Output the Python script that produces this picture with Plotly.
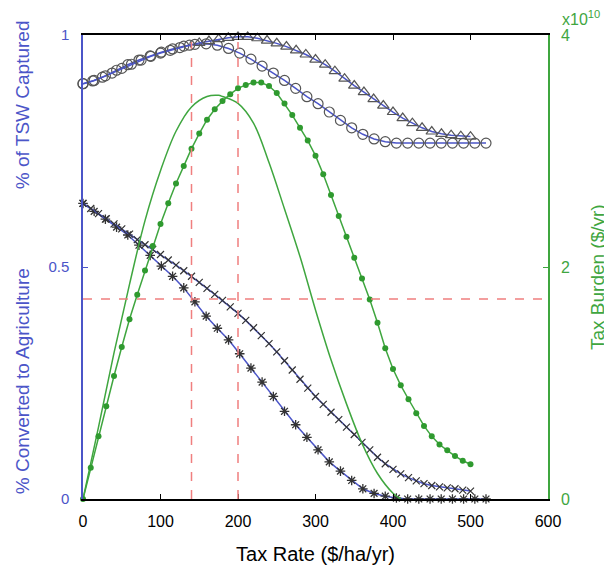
import plotly.graph_objects as go

# ---------------- data ----------------
# grid used by the circle / asterisk series (0..520)
X_A = [0, 14.4, 28.9, 43.3, 57.8, 72.2, 86.7, 101.1, 115.6, 130, 144.4, 158.9,
       173.3, 187.8, 202.2, 216.7, 231.1, 245.6, 260, 274.4, 288.9, 303.3, 317.8,
       332.2, 346.7, 361.1, 375.6, 390, 404.4, 418.9, 433.3, 447.8, 462.2, 476.7,
       491.1, 505.6, 520]
TSW_A = [0.895, 0.902, 0.912, 0.924, 0.936, 0.946, 0.955, 0.963, 0.970, 0.976,
         0.980, 0.981, 0.978, 0.971, 0.961, 0.948, 0.933, 0.918, 0.902, 0.885,
         0.867, 0.852, 0.834, 0.816, 0.800, 0.786, 0.776, 0.770, 0.767, 0.767,
         0.767, 0.767, 0.767, 0.767, 0.767, 0.767, 0.767]
CONV_A = [0.637, 0.620, 0.603, 0.586, 0.569, 0.547, 0.525, 0.502, 0.480, 0.455,
          0.425, 0.394, 0.368, 0.343, 0.313, 0.282, 0.252, 0.221, 0.189, 0.160,
          0.133, 0.106, 0.080, 0.060, 0.040, 0.022, 0.012, 0.006, 0.002, 0.0,
          0.0, 0.0, 0.0, 0.0, 0.0, 0.0, 0.0]

# grid used by the triangle series (0..500)
X_B = [0, 12.5, 25, 37.5, 50, 62.5, 75, 87.5, 100, 112.5, 125, 137.5, 150, 162.5,
       175, 187.5, 200, 212.5, 225, 237.5, 250, 262.5, 275, 287.5, 300, 312.5,
       325, 337.5, 350, 362.5, 375, 387.5, 400, 412.5, 425, 437.5, 450, 462.5,
       475, 487.5, 500]
TSW_B = [0.895, 0.901, 0.909, 0.918, 0.928, 0.937, 0.946, 0.954, 0.961, 0.967,
         0.973, 0.978, 0.983, 0.987, 0.991, 0.994, 0.996, 0.996, 0.993, 0.988,
         0.982, 0.975, 0.967, 0.958, 0.947, 0.936, 0.922, 0.906, 0.891, 0.877,
         0.862, 0.848, 0.834, 0.821, 0.810, 0.800, 0.792, 0.787, 0.784, 0.782,
         0.781]

# grid used by the cross series and green dots (0..500, step 10)
X_C = [0, 10, 20, 30, 40, 50, 60, 70, 80, 90, 100, 110, 120, 130, 140, 150, 160,
       170, 180, 190, 200, 210, 220, 230, 240, 250, 260, 270, 280, 290, 300, 310,
       320, 330, 340, 350, 360, 370, 380, 390, 400, 410, 420, 430, 440, 450, 460,
       470, 480, 490, 500]
CONV_B = [0.637, 0.626, 0.615, 0.604, 0.593, 0.582, 0.571, 0.559, 0.548, 0.538,
          0.527, 0.515, 0.504, 0.492, 0.480, 0.467, 0.454, 0.441, 0.428, 0.414,
          0.400, 0.385, 0.369, 0.352, 0.335, 0.317, 0.298, 0.278, 0.258, 0.239,
          0.221, 0.204, 0.187, 0.171, 0.155, 0.139, 0.122, 0.106, 0.090, 0.076,
          0.064, 0.054, 0.046, 0.039, 0.033, 0.029, 0.026, 0.024, 0.022, 0.019,
          0.017]
BURDEN_B = [0, 0.27, 0.54, 0.80, 1.06, 1.31, 1.55, 1.76, 1.97, 2.18, 2.37, 2.55,
            2.72, 2.87, 3.02, 3.15, 3.27, 3.36, 3.43, 3.49, 3.54, 3.57, 3.59,
            3.59, 3.56, 3.50, 3.41, 3.31, 3.20, 3.09, 2.96, 2.80, 2.62, 2.44,
            2.26, 2.08, 1.90, 1.72, 1.52, 1.30, 1.12, 0.98, 0.86, 0.74, 0.63,
            0.54, 0.47, 0.42, 0.37, 0.33, 0.30]   # x 1e10 $/yr

# solid green curve (tax burden, other scenario)
X_D = [0, 20, 40, 60, 80, 100, 120, 140, 160, 175, 180, 200, 220, 240, 260, 280,
       300, 320, 340, 360, 380, 400, 410]
BURDEN_A = [0, 0.62, 1.26, 1.85, 2.40, 2.83, 3.17, 3.38, 3.47, 3.48, 3.47, 3.41,
            3.24, 2.90, 2.50, 2.09, 1.63, 1.20, 0.82, 0.48, 0.22, 0.05, 0]

REF_X = [140, 200]
REF_Y = 0.431

X_TICKS = [0, 100, 200, 300, 400, 500, 600]
Y_TICKS = [0, 0.5, 1]
Y2_TICKS = [0, 2, 4]

# ---------------- style ----------------
BLUE = "#4b55c8"
GREEN = "#3fa63f"
DOT_GREEN = "#2f9a2f"
GREY = "#555555"
RED = "#f07f7f"
FONT = "Liberation Sans, Arial, sans-serif"

fig = go.Figure()

# circles
fig.add_trace(go.Scatter(x=X_A, y=TSW_A, mode="lines+markers", cliponaxis=False,
                         line=dict(color=BLUE, width=1.5),
                         marker=dict(symbol="circle-open", size=10, color=GREY,
                                     line=dict(width=1.2, color=GREY))))
# triangles (circles at the start where they overlap)
sym_b = ["circle-open" if x < 145 else "triangle-up-open" for x in X_B]
fig.add_trace(go.Scatter(x=X_B, y=TSW_B, mode="lines+markers", cliponaxis=False,
                         line=dict(color=BLUE, width=1.5),
                         marker=dict(symbol=sym_b, size=10, color=GREY,
                                     line=dict(width=1.2, color=GREY))))
# asterisks
fig.add_trace(go.Scatter(x=X_A, y=CONV_A, mode="lines+markers", cliponaxis=False,
                         line=dict(color=BLUE, width=1.5),
                         marker=dict(symbol="asterisk-open", size=8, color="#333333",
                                     line=dict(width=1.3, color="#333333"))))
# crosses
fig.add_trace(go.Scatter(x=X_C, y=CONV_B, mode="lines+markers", cliponaxis=False,
                         line=dict(color=BLUE, width=1.5),
                         marker=dict(symbol="x-thin-open", size=7, color="#333333",
                                     line=dict(width=1.2, color="#333333"))))
# green solid
fig.add_trace(go.Scatter(x=X_D, y=BURDEN_A, yaxis="y2", mode="lines",
                         line=dict(color=GREEN, width=1.5, shape="spline")))
# green dotted
fig.add_trace(go.Scatter(x=X_C, y=BURDEN_B, yaxis="y2", mode="lines+markers",
                         cliponaxis=False,
                         line=dict(color=GREEN, width=1.5),
                         marker=dict(symbol="circle", size=6, color=DOT_GREEN)))

shapes = []
for rx in REF_X:
    shapes.append(dict(type="line", xref="x", yref="paper", x0=rx, x1=rx, y0=0, y1=0.985,
                       line=dict(color=RED, width=1.5, dash="dash")))
shapes.append(dict(type="line", xref="paper", yref="y", x0=0, x1=1, y0=REF_Y, y1=REF_Y,
                   line=dict(color=RED, width=1.5, dash="dash")))

# the page body adds an 8px offset, so the figure is 8px smaller on each axis
fig.update_layout(
    width=604, height=565,
    margin=dict(l=75, r=64, t=27, b=74, autoexpand=False),
    paper_bgcolor="white", plot_bgcolor="white",
    showlegend=False,
    font=dict(family=FONT, size=14, color="black"),
    shapes=shapes,
    xaxis=dict(range=[0, 600], tickvals=X_TICKS, showgrid=False, zeroline=False,
               automargin=False,
               showline=True, linecolor="black", linewidth=1.5, mirror="ticks",
               ticks="inside", ticklen=5, tickcolor="black",
               ticklabelstandoff=7,
               tickfont=dict(size=16, color="black"),
               title=dict(text="Tax Rate ($/ha/yr)", font=dict(size=20), standoff=18)),
    yaxis=dict(range=[0, 1], tickvals=Y_TICKS, ticktext=["0", "0.5", "1"],
               showgrid=False, zeroline=False, automargin=False,
               showline=True, linecolor=BLUE, linewidth=1.5,
               ticks="inside", ticklen=5, tickcolor=BLUE,
               ticklabelstandoff=9,
               tickfont=dict(size=15, color=BLUE)),
    yaxis2=dict(range=[0, 4], tickvals=Y2_TICKS, overlaying="y", side="right",
                showgrid=False, zeroline=False, automargin=False,
                showline=True, linecolor=GREEN, linewidth=1.5,
                ticks="inside", ticklen=5, tickcolor=GREEN,
                ticklabelstandoff=8,
                tickfont=dict(size=16, color=GREEN)),
)

fig.add_annotation(text="% of TSW Captured", xref="paper", yref="paper",
                   x=-0.131, y=0.849, xanchor="center", yanchor="middle",
                   textangle=-90, showarrow=False,
                   font=dict(size=19, color=BLUE))
fig.add_annotation(text="% Converted to Agriculture", xref="paper", yref="paper",
                   x=-0.131, y=0.254, xanchor="center", yanchor="middle",
                   textangle=-90, showarrow=False,
                   font=dict(size=19, color=BLUE))
fig.add_annotation(text="Tax Burden ($/yr)", xref="paper", yref="paper",
                   x=1.105, y=0.478, xanchor="center", yanchor="middle",
                   textangle=-90, showarrow=False,
                   font=dict(size=19, color=GREEN))
fig.add_annotation(text="x10<sup>10</sup>", xref="paper", yref="paper",
                   x=1.025, y=1.01, xanchor="left", yanchor="bottom", showarrow=False,
                   font=dict(size=16, color=GREEN))

fig.write_html("out.html")
